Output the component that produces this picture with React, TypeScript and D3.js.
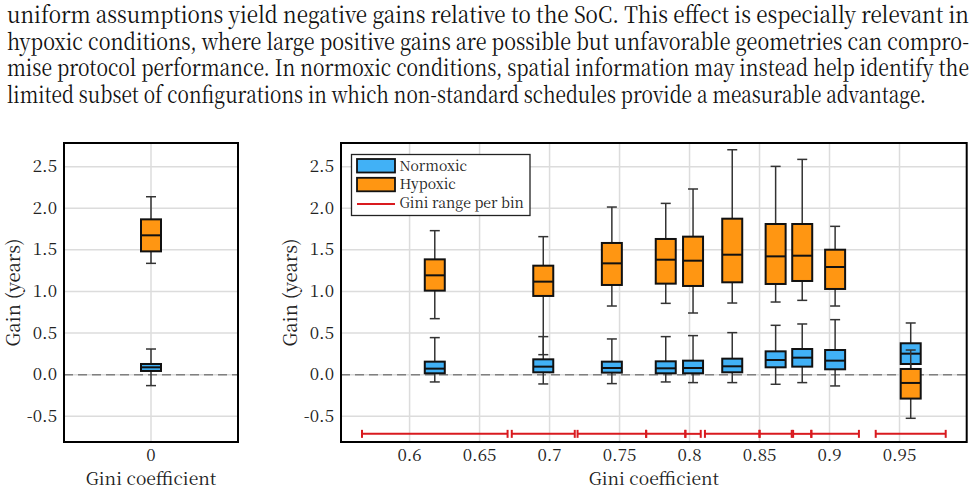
import React from 'react';
import * as d3 from 'd3';

const W = 977;
const H = 492;

// Gini bins: lower and upper edge of each bin
const binLo = [0.566, 0.673, 0.72, 0.769, 0.797, 0.811, 0.85, 0.874, 0.887, 0.933];
const binHi = [0.67, 0.718, 0.769, 0.797, 0.808, 0.85, 0.873, 0.887, 0.921, 0.983];

// box stats per bin: [whisker low, Q1, median, Q3, whisker high]
const normoxic = [
  [-0.088, 0.016, 0.072, 0.156, 0.445],
  [-0.112, 0.028, 0.096, 0.184, 0.457],
  [-0.108, 0.024, 0.08, 0.156, 0.429],
  [-0.088, 0.016, 0.076, 0.16, 0.457],
  [-0.096, 0.016, 0.08, 0.168, 0.469],
  [-0.096, 0.028, 0.1, 0.192, 0.505],
  [-0.116, 0.088, 0.176, 0.28, 0.593],
  [-0.096, 0.096, 0.204, 0.308, 0.609],
  [-0.136, 0.064, 0.168, 0.296, 0.661],
  [-0.02, 0.128, 0.252, 0.377, 0.621],
];
const hypoxic = [
  [0.673, 1.01, 1.194, 1.386, 1.731],
  [0.24, 0.946, 1.118, 1.31, 1.659],
  [0.825, 1.078, 1.338, 1.583, 2.015],
  [0.857, 1.094, 1.382, 1.631, 2.059],
  [0.741, 1.066, 1.37, 1.659, 2.232],
  [0.861, 1.11, 1.442, 1.875, 2.704],
  [0.873, 1.09, 1.422, 1.811, 2.504],
  [0.893, 1.126, 1.43, 1.811, 2.588],
  [0.825, 1.03, 1.294, 1.502, 1.783],
  [-0.525, -0.288, -0.1, 0.068, 0.296],
];

// uniform (Gini = 0) configuration
const uniformNormoxic = [-0.132, 0.044, 0.088, 0.128, 0.308];
const uniformHypoxic = [1.338, 1.482, 1.675, 1.867, 2.139];

const gainTicks = [-0.5, 0, 0.5, 1, 1.5, 2, 2.5];
const giniTicks = [0.6, 0.65, 0.7, 0.75, 0.8, 0.85, 0.9, 0.95];
const legendLabels = ['Normoxic', 'Hypoxic', 'Gini range per bin'];
const binMarkerGain = -0.712;

const paragraph = [
  'uniform assumptions yield negative gains relative to the SoC. This effect is especially relevant in',
  'hypoxic conditions, where large positive gains are possible but unfavorable geometries can compro-',
  'mise protocol performance. In normoxic conditions, spatial information may instead help identify the',
  'limited subset of configurations in which non-standard schedules provide a measurable advantage.',
];
const paragraphEnds = [969, 969, 969, 926];

const BLUE = '#41b1f6';
const ORANGE = '#ff9612';
const RED = '#d91a1f';
const GRID = '#dcdcdc';
const SERIF = '"Noto Serif CJK SC"';

const TOP = 143;
const BOTTOM = 442;
const BOX_W = 20;
const CAP_W = 10;

const y = d3.scaleLinear().domain([-0.81, 2.785]).range([BOTTOM, TOP]);
const xl = d3.scaleLinear().domain([-1, 1]).range([64, 238]);
const xr = d3.scaleLinear().domain([0.551, 0.998]).range([341, 966.7]);

const fmtGain = (v: number) => (v < 0 ? '-' : '') + d3.format('.1f')(Math.abs(v));

const Box = ({ cx, s, fill }: { cx: number; s: number[]; fill: string }) => {
  const [lo, q1, med, q3, hi] = s;
  return (
    <g>
      <line x1={cx} x2={cx} y1={y(hi)} y2={y(lo)} stroke="#333" strokeWidth={1.5} />
      {[lo, hi].map((v, i) => (
        <line key={i} x1={cx - CAP_W / 2} x2={cx + CAP_W / 2} y1={y(v)} y2={y(v)} stroke="#333" strokeWidth={1.5} />
      ))}
      <rect x={cx - BOX_W / 2} width={BOX_W} y={y(q3)} height={y(q1) - y(q3)} fill={fill} stroke="#111" strokeWidth={2} />
      <line x1={cx - BOX_W / 2} x2={cx + BOX_W / 2} y1={y(med)} y2={y(med)} stroke="#111" strokeWidth={2} />
    </g>
  );
};

const Panel = ({ x0, x1, xTicks, xScale, tickFmt, children }: any) => (
  <g>
    {gainTicks.map(t => (
      <line key={'h' + t} x1={x0} x2={x1} y1={y(t)} y2={y(t)} stroke={GRID} strokeWidth={1.5} />
    ))}
    {xTicks.map((t: number) => (
      <line key={'v' + t} x1={xScale(t)} x2={xScale(t)} y1={TOP} y2={BOTTOM} stroke={GRID} strokeWidth={1.5} />
    ))}
    <line x1={x0} x2={x1} y1={y(0)} y2={y(0)} stroke="#808080" strokeWidth={1.5} strokeDasharray="9,5" />
    <g style={{ fontFamily: SERIF }} fill="#222" fontSize={17}>
      {gainTicks.map(t => (
        <text key={'yl' + t} x={x0 - 7} y={y(t) + 5.5} textAnchor="end">
          {fmtGain(t)}
        </text>
      ))}
      {xTicks.map((t: number) => (
        <text key={'xl' + t} x={xScale(t)} y={461} textAnchor="middle">
          {tickFmt(t)}
        </text>
      ))}
      <text x={(x0 + x1) / 2} y={485} textAnchor="middle" fontSize={17.5}>
        Gini coefficient
      </text>
      <text transform={`translate(${x0 - 44},${(TOP + BOTTOM) / 2}) rotate(-90)`} textAnchor="middle" fontSize={18.5}>
        Gain (years)
      </text>
    </g>
    {children}
    <rect x={x0} y={TOP} width={x1 - x0} height={BOTTOM - TOP} fill="none" stroke="#000" strokeWidth={2} />
  </g>
);

const App = () => {
  const mids = binLo.map((lo, i) => (lo + binHi[i]) / 2);
  const yb = y(binMarkerGain);

  return (
    <svg width={W} height={H} style={{ position: 'absolute', left: 0, top: 0, display: 'block', background: '#fff' }}>
      {/* body text above the figure */}
      <g style={{ fontFamily: SERIF }} fontSize={23} fill="#111">
        {paragraph.map((line, i) => (
          <text key={i} x={7} y={22.8 + i * 26.8} textLength={paragraphEnds[i] - 7} lengthAdjust="spacingAndGlyphs">
            {line}
          </text>
        ))}
      </g>

      {/* uniform configuration */}
      <Panel x0={64} x1={238} xTicks={[0]} xScale={xl} tickFmt={() => '0'}>
        <Box cx={xl(0)} s={uniformNormoxic} fill={BLUE} />
        <Box cx={xl(0)} s={uniformHypoxic} fill={ORANGE} />
      </Panel>

      {/* binned by Gini coefficient */}
      <Panel x0={341} x1={966.7} xTicks={giniTicks} xScale={xr} tickFmt={(t: number) => String(t)}>
        {mids.map((m, i) => <Box key={'n' + i} cx={xr(m)} s={normoxic[i]} fill={BLUE} />)}
        {mids.map((m, i) => <Box key={'h' + i} cx={xr(m)} s={hypoxic[i]} fill={ORANGE} />)}
        {binLo.map((lo, i) => {
          const a = xr(lo);
          const b = xr(binHi[i]);
          return (
            <g key={'bin' + i} stroke={RED} strokeWidth={2}>
              <line x1={a} x2={b} y1={yb} y2={yb} />
              <line x1={a} x2={a} y1={yb - 4} y2={yb + 4} />
              <line x1={b} x2={b} y1={yb - 4} y2={yb + 4} />
            </g>
          );
        })}
        {/* legend */}
        <g>
          <rect x={351.5} y={154.5} width={178.5} height={61} fill="#fff" stroke="#222" strokeWidth={1.3} />
          {[BLUE, ORANGE].map((c, i) => (
            <rect key={c} x={357} y={159 + i * 18.8} width={38} height={13.5} fill={c} stroke="#111" strokeWidth={1.8} />
          ))}
          <line x1={357} x2={395} y1={204} y2={204} stroke={RED} strokeWidth={2} />
          <g style={{ fontFamily: SERIF }} fontSize={14} fill="#222">
            {legendLabels.map((l, i) => (
              <text key={l} x={399.5} y={170.5 + i * 18.8}>
                {l}
              </text>
            ))}
          </g>
        </g>
      </Panel>
    </svg>
  );
};

export default App;
